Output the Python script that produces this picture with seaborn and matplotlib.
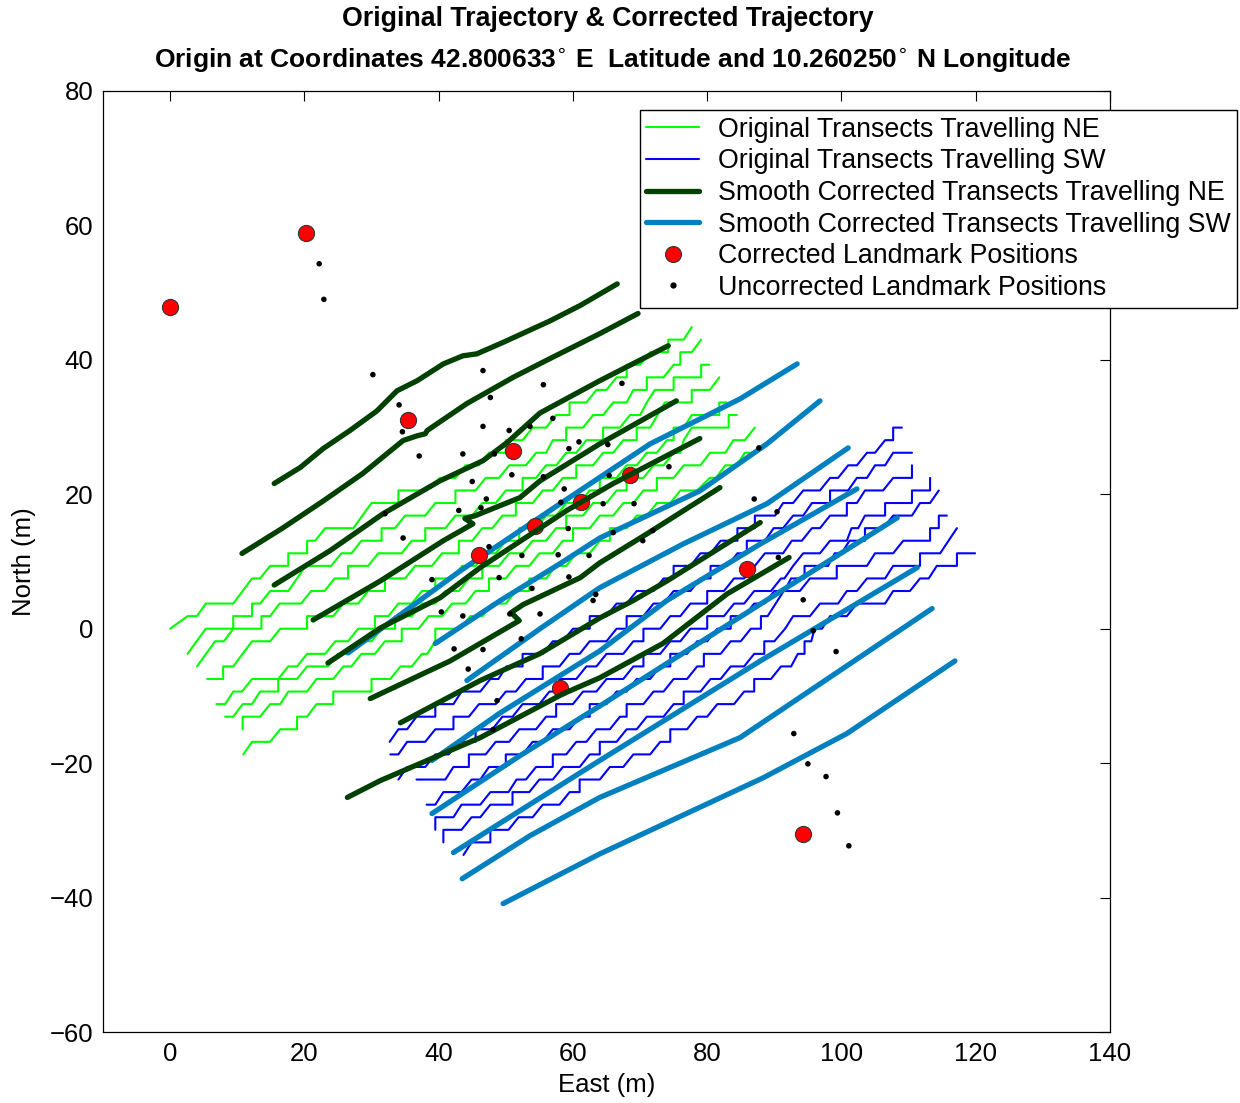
import matplotlib
matplotlib.use("Agg")
import matplotlib.pyplot as plt
import pandas as pd
import seaborn as sns
from matplotlib.lines import Line2D

# ---------------- data ----------------
STEP = 1.87  # GPS quantisation of the original north coordinate (m per level)

# original transects travelling NE: (east m, north level)
ne_orig_1 = [(0,0),(2.6,1),(4.0,1),(5.3,2),(9.4,2),(12.2,4),(13.4,4),(14.9,5),(17.6,5),(17.6,6),(20.4,6),(20.4,7),(21.6,7),(23.1,8),(27.3,8),(30.0,10),(34.0,10),(34.0,11),(38.2,11),(40.2,12),(42.5,12),(44.0,13),(46.0,13),(47.5,14),(50.0,14),(50.0,15),(52.5,15),(54.0,16),(56.0,16),(57.5,17),(59.5,17),(59.5,18),(62.0,18),(63.5,19),(65.0,19),(66.5,20),(68.0,20),(68.0,21),(70.0,21),(71.5,22),(74.2,22),(74.2,23),(76.5,23),(77.7,24)]
ne_orig_2 = [(2.6,-2),(5.3,0),(9.4,0),(9.4,1),(12.2,1),(12.2,2),(13.4,2),(14.9,3),(17.6,3),(20.2,5),(24.0,5),(25.5,6),(27.0,6),(28.5,7),(31.5,7),(31.5,8),(33.5,8),(35.0,9),(38.0,9),(39.5,10),(42.5,10),(42.5,11),(45.5,11),(47.0,12),(49.0,12),(50.5,13),(53.0,13),(54.5,14),(56.0,14),(57.0,15),(59.0,15),(59.0,16),(61.5,16),(63.0,17),(64.5,17),(66.0,18),(68.0,18),(69.0,19),(71.0,19),(71.0,20),(73.5,20),(75.0,21),(76.0,21),(76.0,22),(77.7,22),(79.1,23)]
ne_orig_3 = [(4.0,-3),(6.7,-1),(8.0,-1),(9.4,0),(13.6,0),(13.6,1),(14.9,1),(16.3,2),(19.5,2),(21.0,3),(23.0,3),(24.5,4),(26.5,4),(26.5,5),(29.5,5),(31.0,6),(34.5,6),(36.0,7),(38.0,7),(38.0,8),(41.0,8),(42.5,9),(45.0,9),(46.5,10),(48.5,10),(50.0,11),(52.5,11),(52.5,12),(54.5,12),(56.0,13),(57.5,13),(59.0,14),(60.5,14),(62.0,15),(64.5,15),(64.5,16),(67.0,16),(68.5,17),(70.0,17),(71.0,18),(72.2,19),(75.0,19),(75.0,20),(79.1,20),(79.1,21),(80.3,21)]
ne_orig_4 = [(5.5,-4),(7.9,-4),(7.9,-3),(9.4,-3),(12.2,-1),(14.9,-1),(16.4,0),(20.4,0),(20.4,1),(24.3,1),(25.8,2),(28.0,2),(29.5,3),(32.0,3),(32.0,4),(35.0,4),(36.5,5),(39.0,5),(40.5,6),(43.0,6),(43.0,7),(45.0,7),(46.5,8),(48.0,8),(49.5,9),(51.5,9),(51.5,10),(54.0,10),(55.5,11),(57.0,11),(58.5,12),(60.5,12),(60.5,13),(63.0,13),(64.5,14),(66.0,14),(67.5,15),(69.5,15),(69.5,16),(71.5,16),(72.6,17),(73.7,18),(77.7,18),(77.7,19),(80.4,19),(81.8,20)]
ne_orig_5 = [(6.9,-6),(8.2,-6),(9.4,-5),(10.7,-5),(12.2,-4),(16.1,-4),(17.6,-3),(18.9,-3),(20.4,-2),(23.1,-2),(24.6,-1),(26.5,-1),(28.0,0),(30.5,0),(30.5,1),(32.5,1),(34.0,2),(36.0,2),(37.5,3),(39.5,3),(39.5,4),(42.0,4),(43.5,5),(45.5,5),(47.0,6),(48.5,6),(50.0,7),(52.0,7),(52.0,8),(54.5,8),(56.0,9),(57.5,9),(59.0,10),(61.0,10),(62.5,11),(64.0,11),(64.0,12),(66.5,12),(68.0,13),(69.5,13),(71.0,14),(72.5,14),(74.0,15),(75.0,15),(75.0,16),(76.5,16),(77.7,17),(81.8,17),(81.8,18),(82.9,18)]
ne_orig_6 = [(8.2,-7),(9.4,-7),(10.8,-6),(12.2,-6),(13.4,-5),(16.1,-5),(16.1,-4),(18.9,-4),(20.4,-3),(23.5,-3),(25.0,-2),(26.5,-2),(28.0,-1),(30.0,-1),(31.5,0),(33.5,0),(33.5,1),(36.0,1),(37.5,2),(39.5,2),(41.0,3),(43.0,3),(44.5,4),(46.5,4),(46.5,5),(49.0,5),(50.5,6),(52.5,6),(54.0,7),(56.0,7),(57.5,8),(59.0,8),(59.0,9),(61.5,9),(63.0,10),(65.0,10),(66.5,11),(68.0,11),(68.0,12),(70.5,12),(72.0,13),(73.5,13),(75.0,14),(76.0,14),(76.5,15),(77.7,16),(83.2,16),(83.2,17),(84.4,17)]
ne_orig_7 = [(10.8,-8),(10.8,-7),(13.4,-7),(14.9,-6),(16.4,-6),(17.6,-5),(20.4,-5),(21.8,-4),(24.3,-4),(25.8,-3),(27.0,-3),(28.5,-2),(30.5,-2),(32.0,-1),(34.5,-1),(34.5,0),(37.0,0),(38.5,1),(40.5,1),(42.0,2),(44.0,2),(45.5,3),(47.5,3),(47.5,4),(50.0,4),(51.5,5),(53.5,5),(55.0,6),(57.0,6),(58.5,7),(60.0,7),(60.0,8),(62.5,8),(64.0,9),(66.0,9),(67.5,10),(69.0,10),(70.5,11),(72.5,11),(72.5,12),(75.0,12),(76.5,13),(79.0,13),(80.4,14),(82.7,14),(83.9,15),(85.6,15),(87.1,16)]
ne_orig_8 = [(10.9,-10),(12.2,-9),(14.9,-9),(16.4,-8),(18.9,-8),(18.9,-7),(20.4,-7),(21.8,-6),(24.3,-6),(24.3,-5),(30.0,-5),(30.0,-4),(32.8,-4),(34.3,-3),(36.0,-3),(37.5,-2),(38.3,-2),(39.5,-1),(39.5,0),(43.2,0),(44.7,1),(46.5,1),(48.0,2),(50.0,2),(51.5,3),(53.5,3),(53.5,4),(56.0,4),(57.5,5),(59.0,5),(60.5,6),(62.5,6),(64.0,7),(65.5,7),(65.5,8),(68.0,8),(69.5,9),(71.0,9),(72.5,10),(74.5,10),(76.0,11),(78.5,11),(80.4,12),(81.3,12),(82.7,13),(84.4,13),(85.6,14),(87.1,14)]

# original transects travelling SW: (east m, north level)
sw_orig_1 = [(32.7,-9),(34.0,-8),(35.3,-8),(36.7,-7),(39.5,-7),(39.5,-6),(42.2,-6),(43.4,-5),(46.2,-5),(47.7,-4),(48.9,-4),(50.1,-3),(52.5,-3),(52.5,-2),(55.5,-2),(57.0,-1),(58.5,-1),(60.0,0),(62.5,0),(62.5,1),(65.0,1),(66.5,2),(68.0,2),(69.5,3),(72.0,3),(73.5,4),(75.0,4),(75.0,5),(77.5,5),(79.0,6),(80.5,6),(82.0,7),(84.5,7),(84.5,8),(87.1,8),(87.1,9),(90.1,9),(91.3,10),(92.8,10),(94.3,11),(96.8,11),(98.3,12),(99.5,12),(101.0,13),(102.3,13),(103.8,14),(105.0,14),(106.5,15),(107.7,15),(107.7,16),(109.0,16)]
sw_orig_2 = [(32.8,-10),(34.0,-10),(35.3,-9),(38.0,-9),(39.5,-8),(42.2,-8),(42.2,-7),(44.5,-7),(46.0,-6),(48.5,-6),(50.0,-5),(51.5,-5),(53.0,-4),(55.5,-4),(55.5,-3),(58.0,-3),(59.5,-2),(61.0,-2),(62.5,-1),(65.0,-1),(66.5,0),(68.0,0),(68.0,1),(70.5,1),(72.0,2),(73.5,2),(75.0,3),(77.5,3),(79.0,4),(80.5,4),(80.5,5),(83.0,5),(84.5,6),(85.9,6),(85.9,7),(88.6,7),(89.9,8),(91.3,8),(92.8,9),(94.3,9),(95.6,10),(98.3,10),(98.3,11),(101.0,11),(102.3,12),(103.8,12),(105.0,13),(106.5,13),(107.7,14),(110.5,14)]
sw_orig_3 = [(34.0,-12),(35.3,-11),(38.0,-11),(39.5,-10),(41.5,-10),(43.0,-9),(45.5,-9),(45.5,-8),(48.0,-8),(49.5,-7),(51.0,-7),(52.5,-6),(55.0,-6),(56.5,-5),(58.0,-5),(58.0,-4),(60.5,-4),(62.0,-3),(63.5,-3),(65.0,-2),(67.5,-2),(69.0,-1),(70.5,-1),(70.5,0),(73.0,0),(74.5,1),(76.0,1),(77.5,2),(80.0,2),(80.0,3),(82.5,3),(84.0,4),(85.5,4),(87.1,5),(88.6,6),(91.3,6),(92.6,7),(94.1,7),(95.6,8),(96.8,8),(98.3,9),(100.8,9),(100.8,10),(102.3,10),(103.5,11),(106.2,11),(107.7,12),(110.5,12),(110.5,13)]
sw_orig_4 = [(36.7,-12),(41.0,-12),(42.2,-11),(44.5,-11),(44.5,-10),(47.0,-10),(48.5,-9),(50.5,-9),(52.0,-8),(54.5,-8),(56.0,-7),(57.5,-7),(57.5,-6),(60.0,-6),(61.5,-5),(63.5,-5),(65.0,-4),(67.5,-4),(69.0,-3),(70.5,-3),(70.5,-2),(73.0,-2),(74.5,-1),(76.0,-1),(77.5,0),(80.0,0),(80.0,1),(82.5,1),(84.0,2),(85.5,2),(87.0,3),(89.5,3),(91.0,4),(91.5,4),(92.8,5),(94.3,6),(96.8,6),(98.3,7),(100.8,7),(101.5,8),(102.5,8),(103.5,9),(106.5,9),(106.5,10),(110.5,10),(110.5,11),(113.2,11),(113.2,12)]
sw_orig_5 = [(38.2,-14),(39.5,-14),(40.7,-13),(43.4,-13),(44.9,-12),(46.2,-12),(47.5,-11),(50.0,-11),(50.0,-10),(52.5,-10),(54.0,-9),(55.5,-9),(57.0,-8),(59.5,-8),(61.0,-7),(62.5,-7),(62.5,-6),(65.0,-6),(66.5,-5),(68.0,-5),(69.5,-4),(71.5,-4),(73.0,-3),(74.5,-3),(74.5,-2),(77.0,-2),(78.5,-1),(80.0,-1),(81.5,0),(83.5,0),(83.5,1),(85.5,1),(87.0,2),(88.5,2),(90.0,3),(91.5,3),(92.5,4),(94.5,4),(94.5,5),(98.0,5),(99.0,6),(100.0,6),(101.2,7),(103.5,7),(103.5,8),(106.2,8),(107.7,9),(110.5,9),(111.7,10),(113.2,10),(114.5,11)]
sw_orig_6 = [(39.5,-16),(39.5,-15),(42.2,-15),(43.4,-14),(46.2,-14),(47.7,-13),(50.4,-13),(51.6,-12),(53.0,-12),(54.5,-11),(57.0,-11),(57.0,-10),(59.0,-10),(60.5,-9),(62.0,-9),(63.5,-8),(65.5,-8),(67.0,-7),(68.0,-7),(68.0,-6),(70.5,-6),(72.0,-5),(73.5,-5),(75.0,-4),(77.0,-4),(78.5,-3),(79.5,-3),(79.5,-2),(82.0,-2),(83.5,-1),(85.0,-1),(86.5,0),(88.0,0),(88.0,1),(89.0,1),(90.2,2),(91.4,3),(93.8,3),(95.3,4),(99.3,4),(99.3,5),(103.8,5),(105.0,6),(107.7,6),(109.2,7),(113.2,7),(113.2,8),(114.5,8),(114.5,9),(115.7,9)]
sw_orig_7 = [(40.7,-17),(40.7,-16),(43.4,-16),(44.9,-15),(46.2,-15),(47.7,-14),(51.0,-14),(51.0,-13),(53.5,-13),(55.0,-12),(57.0,-12),(58.5,-11),(61.0,-11),(62.5,-10),(64.0,-10),(64.0,-9),(66.5,-9),(68.0,-8),(69.5,-8),(71.0,-7),(73.5,-7),(75.0,-6),(76.5,-6),(76.5,-5),(79.0,-5),(80.5,-4),(82.0,-4),(83.5,-3),(85.5,-3),(87.0,-2),(88.5,-2),(88.5,-1),(90.0,-1),(91.6,0),(92.8,1),(95.3,1),(96.8,2),(99.5,2),(100.8,3),(102.3,3),(103.8,4),(106.5,4),(107.7,5),(111.7,5),(111.7,6),(114.7,6),(117.2,8)]
sw_orig_8 = [(43.7,-18),(44.9,-17),(47.7,-17),(47.7,-16),(50.4,-16),(51.9,-15),(54.0,-15),(55.5,-14),(58.0,-14),(59.5,-13),(61.0,-13),(61.0,-12),(64.0,-12),(65.5,-11),(67.5,-11),(69.0,-10),(71.5,-10),(73.0,-9),(74.5,-9),(74.5,-8),(77.0,-8),(78.5,-7),(80.0,-7),(81.5,-6),(84.0,-6),(85.5,-5),(87.0,-5),(87.0,-4),(89.5,-4),(91.0,-3),(92.5,-3),(93.5,-2),(94.5,-2),(94.5,-1),(95.5,-1),(96.0,0),(97.1,0),(98.3,1),(100.8,1),(102.3,2),(106.5,2),(107.7,3),(110.2,3),(111.7,4),(113.0,4),(114.2,5),(117.2,5),(117.2,6),(119.9,6)]

# smooth corrected transects travelling NE: (east m, north m)
ne_corr_1 = [(15.5,21.6),(19.4,24.0),(22.8,26.8),(26.8,29.5),(30.8,32.4),(33.8,35.4),(36.8,36.9),(40.7,39.4),(43.6,40.6),(45.7,40.9),(49.6,42.6),(56.6,45.8),(61.1,48.1),(66.6,51.3)]
ne_corr_2 = [(10.7,11.2),(16.8,15.0),(22.8,19.0),(28.7,23.1),(34.7,28.0),(36.8,28.7),(38.0,29.0),(38.3,29.5),(44.2,33.5),(51.1,37.4),(56.6,40.2),(64.0,43.9),(69.7,46.9)]
ne_corr_3 = [(15.5,6.5),(23.8,11.6),(31.7,17.1),(40.2,22.0),(46.6,25.0),(50.2,27.7),(55.1,32.1),(64.0,36.9),(74.2,42.1)]
ne_corr_4 = [(21.3,1.3),(31.3,7.1),(40.7,13.1),(45.1,15.6),(43.9,16.4),(45.4,16.8),(52.1,19.5),(55.1,22.0),(64.0,27.5),(75.4,33.9)]
ne_corr_5 = [(23.5,-5.1),(31.3,0.1),(40.2,4.6),(46.2,9.1),(59.1,17.6),(66.0,21.6),(78.9,28.3)]
ne_corr_6 = [(29.8,-10.4),(41.7,-4.8),(52.0,1.2),(50.8,2.4),(52.6,3.6),(61.1,7.6),(64.0,9.8),(71.0,14.1),(81.9,21.0)]
ne_corr_7 = [(34.3,-14.0),(46.2,-7.7),(55.1,-3.7),(64.0,1.6),(69.0,4.2),(74.0,7.1),(87.9,15.8)]
ne_corr_8 = [(26.4,-25.1),(31.3,-22.6),(46.2,-16.2),(58.5,-9.7),(64.0,-7.3),(73.4,-2.2),(83.0,5.2),(92.2,10.6)]

# smooth corrected transects travelling SW: (east m, north m)
sw_corr_1 = [(26.5,-3.6),(43.2,8.6),(58.1,18.6),(71.5,27.5),(84.9,34.2),(93.4,39.4)]
sw_corr_2 = [(39.5,-2.2),(49.2,4.2),(58.1,9.7),(64.0,13.5),(78.9,20.5),(88.9,27.5),(96.8,33.9)]
sw_corr_3 = [(44.2,-7.7),(55.1,0.0),(64.0,6.1),(76.4,12.6),(88.9,18.6),(101.0,26.9)]
sw_corr_4 = [(39.0,-19.6),(49.2,-12.5),(64.0,-3.3),(74.0,4.2),(87.9,12.6),(102.3,20.8)]
sw_corr_5 = [(39.0,-27.5),(52.1,-18.9),(64.0,-11.5),(86.4,2.7),(108.3,16.5)]
sw_corr_6 = [(42.2,-33.3),(64.0,-19.6),(87.9,-4.8),(111.3,9.1)]
sw_corr_7 = [(43.5,-37.2),(53.6,-30.8),(64.0,-25.1),(84.9,-16.2),(113.5,3.0)]
sw_corr_8 = [(49.6,-40.9),(64.0,-33.5),(88.3,-22.2),(100.8,-15.6),(116.9,-4.8)]

# landmarks
corrected_east = [0.0, 20.3, 35.4, 51.1, 68.5, 61.2, 54.4, 46.0, 85.9, 58.1, 94.3]
corrected_north = [47.8, 58.8, 31.0, 26.5, 22.8, 18.8, 15.3, 11.0, 8.9, -8.8, -30.5]
uncorrected_east = [22.2,22.9,30.2,46.6,55.6,67.3,34.1,47.7,34.6,46.6,50.5,53.6,57.0,37.1,43.6,48.3,60.9,59.4,65.2,45.0,50.9,55.6,58.7,65.4,74.3,87.7,47.1,46.3,43.0,58.2,64.5,69.1,32.0,34.7,59.3,71.9,70.4,66.0,47.5,52.4,57.8,62.4,49.0,53.9,59.4,39.0,63.4,63.0,40.4,43.6,50.6,55.1,52.3,46.6,42.3,44.4,48.7,48.1,87.0,90.4,90.6,94.3,95.8,99.2,92.9,95.0,97.7,99.4,101.1]
uncorrected_north = [54.3,49.0,37.8,38.4,36.3,36.5,33.3,34.4,29.3,30.1,29.5,30.1,31.3,25.7,26.0,26.0,27.8,26.8,27.4,21.9,22.9,22.6,20.8,22.8,24.1,26.9,19.3,18.0,17.6,18.8,18.6,18.6,17.1,13.5,14.9,14.6,13.1,14.3,12.2,10.9,11.0,10.9,7.6,6.0,7.7,7.3,5.1,4.2,2.5,1.9,2.2,2.2,-1.5,-3.1,-3.0,-6.0,-10.7,-15.0,19.3,17.4,10.6,4.3,-0.3,-3.4,-15.6,-20.1,-22.0,-27.4,-32.3]

legend_labels = ["Original Transects Travelling NE", "Original Transects Travelling SW",
                 "Smooth Corrected Transects Travelling NE", "Smooth Corrected Transects Travelling SW",
                 "Corrected Landmark Positions", "Uncorrected Landmark Positions"]
x_ticks = [0, 20, 40, 60, 80, 100, 120, 140]
y_ticks = [-60, -40, -20, 0, 20, 40, 60, 80]

C_NE, C_SW, C_NEC, C_SWC = "#00ff00", "#0000ff", "#004000", "#0080bf"


def to_frame(lines, scale):
    rows = []
    for uid, pts in enumerate(lines):
        for order, (x, y) in enumerate(pts):
            rows.append({"unit": uid, "order": order, "east": x, "north": y * scale})
    return pd.DataFrame(rows)


df_ne = to_frame([ne_orig_1, ne_orig_2, ne_orig_3, ne_orig_4, ne_orig_5, ne_orig_6, ne_orig_7, ne_orig_8], STEP)
df_sw = to_frame([sw_orig_1, sw_orig_2, sw_orig_3, sw_orig_4, sw_orig_5, sw_orig_6, sw_orig_7, sw_orig_8], STEP)
df_nec = to_frame([ne_corr_1, ne_corr_2, ne_corr_3, ne_corr_4, ne_corr_5, ne_corr_6, ne_corr_7, ne_corr_8], 1.0)
df_swc = to_frame([sw_corr_1, sw_corr_2, sw_corr_3, sw_corr_4, sw_corr_5, sw_corr_6, sw_corr_7, sw_corr_8], 1.0)

# ---------------- plot ----------------
sns.set_theme(style="white")
plt.rcParams["font.family"] = ["Liberation Sans", "DejaVu Sans"]
for key in ("text.color", "axes.labelcolor", "xtick.color", "ytick.color", "axes.edgecolor"):
    plt.rcParams[key] = "black"

fig = plt.figure(figsize=(12.4, 11.03), dpi=100)
ax = fig.add_axes([103 / 1240, (1103 - 1032) / 1103, 1007 / 1240, 941 / 1103])

common = dict(x="east", y="north", units="unit", estimator=None, sort=False, legend=False, ax=ax)
sns.lineplot(data=df_ne, color=C_NE, linewidth=1.5, zorder=2, **common)
sns.lineplot(data=df_sw, color=C_SW, linewidth=1.5, zorder=3, **common)
sns.lineplot(data=df_swc, color=C_SWC, linewidth=3.8, zorder=4, **common)
sns.scatterplot(x=corrected_east, y=corrected_north, s=135, color="#ff0000", edgecolor="#333333",
                linewidth=0.8, zorder=5, legend=False, ax=ax)
sns.lineplot(data=df_nec, color=C_NEC, linewidth=3.8, zorder=6, **common)
sns.scatterplot(x=uncorrected_east, y=uncorrected_north, s=16, color="black", edgecolor="none",
                zorder=7, legend=False, ax=ax)

ax.set_xlim(-10, 140)
ax.set_ylim(-60, 80)
ax.set_xticks(x_ticks)
ax.set_yticks(y_ticks)
ax.tick_params(direction="in", top=True, right=True, length=7, width=0.8, labelsize=18.5,
               colors="black", pad=7)
for sp in ax.spines.values():
    sp.set_color("black")
    sp.set_linewidth(0.9)

ax.set_xlabel("East (m)", fontsize=18.5, color="black")
ax.set_ylabel("North (m)", fontsize=18.5, color="black")
ax.xaxis.set_label_coords(0.5, -0.0440)
ax.yaxis.set_label_coords(-0.0665, 0.5)

fig.text(608 / 1240, 1 - 19 / 1103, "Original Trajectory & Corrected Trajectory",
         ha="center", va="center", fontsize=19.3, fontweight="bold", color="black")
fig.text(613 / 1240, 1 - 60 / 1103,
         "Origin at Coordinates 42.800633$^{\\circ}$ E  Latitude and 10.260250$^{\\circ}$ N Longitude",
         ha="center", va="center", fontsize=19.0, fontweight="bold", color="black")

handles = [
    Line2D([], [], color=C_NE, lw=1.5),
    Line2D([], [], color=C_SW, lw=1.5),
    Line2D([], [], color=C_NEC, lw=3.8),
    Line2D([], [], color=C_SWC, lw=3.8),
    Line2D([], [], ls="none", marker="o", ms=11.5, mfc="#ff0000", mec="#333333", mew=0.8),
    Line2D([], [], ls="none", marker="o", ms=3.5, mfc="black", mec="black"),
]
leg = ax.legend(handles, legend_labels, loc="upper right", bbox_to_anchor=(1.1261, 0.9798),
                borderaxespad=0, frameon=True, fancybox=False, edgecolor="black", framealpha=1,
                fontsize=19.3, handlelength=1.95, handletextpad=0.7, labelspacing=0.21,
                borderpad=0.25)
leg.get_frame().set_linewidth(1.0)
leg.set_zorder(10)

fig.savefig("out.png", dpi=100)
